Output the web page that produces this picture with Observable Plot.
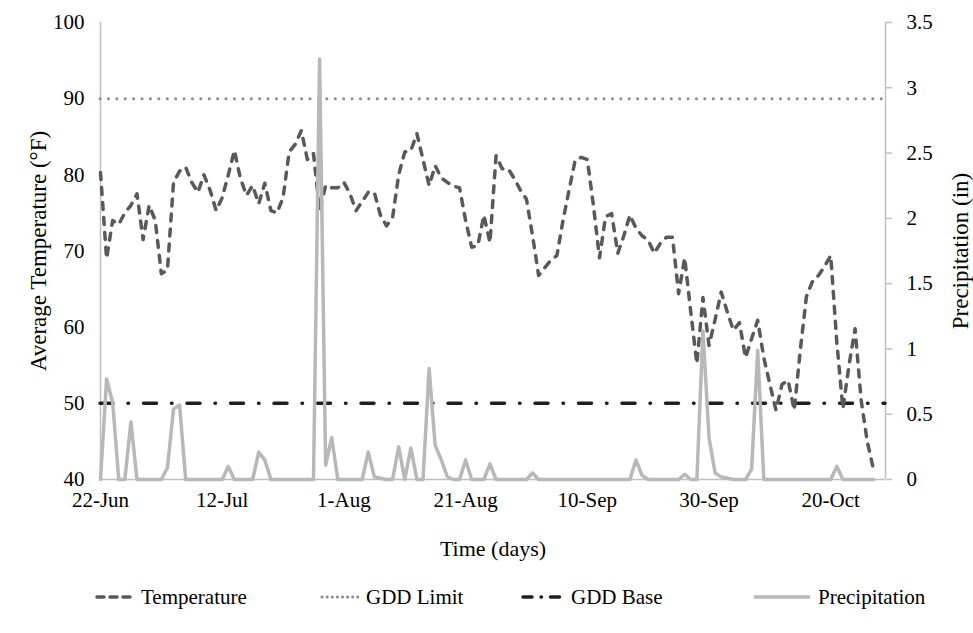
<!DOCTYPE html>
<html><head><meta charset="utf-8">
<script src="https://cdn.jsdelivr.net/npm/d3@7"></script>
<script src="https://cdn.jsdelivr.net/npm/@observablehq/plot@0.6"></script>
<style>
body{margin:0;background:#fff;font-family:"Liberation Serif","Times New Roman",serif;}
#chart{position:relative;width:973px;height:633px;overflow:hidden;}
#chart svg text{font-family:"Liberation Serif","Times New Roman",serif;}
.legend{position:absolute;top:584px;left:0;width:973px;height:26px;font-size:21px;color:#000;}
.item{position:absolute;top:0;display:flex;align-items:center;height:26px;white-space:nowrap;}
.item svg{margin-right:6px;}
</style></head><body>
<div id="chart"></div>
<script>
const startDate = "2013-06-22";
const endDate = "2013-10-29";
const temperature = [
  80.3,69,74,73.5,75,76,77.5,71.5,76,74,
  67,67.5,79,80.5,81,79,77.7,80,78,75.3,
  77,80,83.2,79.5,77.3,78.6,76.2,78.9,75.3,75,
  77,83,84,85.8,82,82.8,75.3,78.6,78.3,78.3,
  79,77.5,75.3,76.5,77.7,77.7,74.7,73.3,74.4,80,
  83,83.2,85.4,82,78.6,81.2,79.6,79,78.5,78.3,
  74,70.5,70.7,74.7,71.1,82.5,80.8,80.8,79.5,78,
  76.8,72,66.8,67.8,68.8,69.4,74,78,81.9,82.3,
  82,76,69.1,74.5,74.9,69.7,72,74.7,73,72,
  71.4,69.7,71,71.8,71.8,64.4,69.1,62,55.2,63.9,
  57.6,61,64.6,62,59.6,60.6,56,58.5,60.9,56,
  52.5,49.1,52.5,53,49.1,57,64,66,66.8,68,
  69.4,58,49.3,55,59.8,50.4,45,41.4
];
const precipitation = [
  0,0.77,0.59,0,0,0.44,0,0,0,0,
  0,0.09,0.54,0.57,0,0,0,0,0,0,
  0,0.1,0,0,0,0,0.21,0.15,0,0,
  0,0,0,0,0,0,3.22,0.11,0.32,0,
  0,0,0,0,0.21,0.02,0.01,0,0,0.25,
  0,0.24,0,0,0.85,0.26,0.15,0.02,0,0,
  0.15,0,0,0,0.12,0,0,0,0,0,
  0,0.05,0,0,0,0,0,0,0,0,
  0,0,0,0,0,0,0,0,0.15,0.03,
  0,0,0,0,0,0,0.04,0,0,1.14,
  0.32,0.05,0.02,0.01,0,0,0,0.08,0.99,0,
  0,0,0,0,0,0,0,0,0,0,
  0,0.1,0,0,0,0,0,0
];
const gddLimit = 90;
const gddBase = 50;
const xTickLabels = ["22-Jun","12-Jul","1-Aug","21-Aug","10-Sep","30-Sep","20-Oct"];
const tempTicks = [40,50,60,70,80,90,100];
const precipTicks = [0,0.5,1,1.5,2,2.5,3,3.5];
const seriesNames = ["Temperature","GDD Limit","GDD Base","Precipitation"];

const tMin = 40, tMax = 100, pMax = 3.5;
const p2t = p => tMin + p * (tMax - tMin) / pMax;
const t2p = t => (t - tMin) * pMax / (tMax - tMin);

const day0 = new Date(startDate + "T00:00:00Z");
const dayN = new Date(endDate + "T00:00:00Z");
const dates = temperature.map((_, i) => new Date(day0.getTime() + i * 864e5));
const parseTick = d3.utcParse("%d-%b-%Y");
const xTicks = xTickLabels.map(s => parseTick(s + "-2013"));
const tData = temperature.map((v, i) => ({date: dates[i], v}));
const pData = precipitation.map((v, i) => ({date: dates[i], v: p2t(v)}));

const W = 973, H = 570;
const axisColor = "#bfbfbf";
const FAM = '"Liberation Serif","Times New Roman",serif';

const chart = Plot.plot({
  width: W, height: H,
  marginLeft: 100, marginRight: 88, marginTop: 22, marginBottom: H - 479,
  style: {fontFamily: FAM, fontSize: "21px", color: "#000", background: "#fff"},
  x: {type: "utc", domain: [day0, dayN]},
  y: {domain: [tMin, tMax]},
  marks: [
    Plot.ruleX([day0], {stroke: axisColor, strokeWidth: 1.5}),
    Plot.ruleX([dayN], {stroke: axisColor, strokeWidth: 1.5}),
    Plot.ruleY([tMin], {stroke: axisColor, strokeWidth: 1.5}),
    Plot.ruleY([gddLimit], {stroke: "#8c8c8c", strokeWidth: 3, strokeDasharray: "0.1 8.3", strokeLinecap: "round"}),
    Plot.ruleY([gddBase], {stroke: "#1e1e1e", strokeWidth: 3.5, strokeDasharray: "13 15 0.5 15", strokeLinecap: "round"}),
    Plot.line(tData, {x: "date", y: "v", stroke: "#595959", strokeWidth: 3.5, strokeDasharray: "7 8", strokeLinecap: "round", strokeLinejoin: "round"}),
    Plot.line(pData, {x: "date", y: "v", stroke: "#b8b8b8", strokeWidth: 3.5, strokeLinejoin: "round"}),
    Plot.axisY(tempTicks, {anchor: "left", tickSize: 0, tickPadding: 16, label: null}),
    Plot.axisY(precipTicks.map(p2t), {anchor: "right", tickSize: 6, tickPadding: 15, stroke: axisColor, strokeWidth: 1.5,
      tickFormat: v => String(Math.round(t2p(v) * 10) / 10), label: null}),
    Plot.axisX(xTicks, {anchor: "bottom", tickSize: 0, tickPadding: 13, tickFormat: d3.utcFormat("%-d-%b"), label: null}),
    Plot.text(["Time (days)"], {frameAnchor: "bottom", dy: 69, lineAnchor: "middle", textAnchor: "middle", fontSize: 22}),
    Plot.text(["Average Temperature (°F)"], {frameAnchor: "left", dx: -62, rotate: -90, lineAnchor: "middle", textAnchor: "middle", fontSize: 23}),
    Plot.text(["Precipitation (in)"], {frameAnchor: "right", dx: 75, rotate: -90, lineAnchor: "middle", textAnchor: "middle", fontSize: 23})
  ]
});
document.getElementById("chart").appendChild(chart);

// legend
const legendStyles = [
  {stroke: "#595959", width: 3.5, dash: "7 6", cap: "round", left: 95, sw: 40},
  {stroke: "#8c8c8c", width: 3, dash: "0.1 5", cap: "round", left: 320, sw: 40},
  {stroke: "#1e1e1e", width: 3.5, dash: "9 9 0.5 9", cap: "round", left: 521, sw: 44},
  {stroke: "#b8b8b8", width: 3.5, dash: null, cap: "butt", left: 752, sw: 60}
];
const legend = document.createElement("div");
legend.className = "legend";
seriesNames.forEach((name, i) => {
  const s = legendStyles[i];
  const item = document.createElement("div");
  item.className = "item";
  item.style.left = s.left + "px";
  item.innerHTML = `<svg width="${s.sw}" height="10"><line x1="2" y1="5" x2="${s.sw - 2}" y2="5" stroke="${s.stroke}" stroke-width="${s.width}" ${s.dash ? `stroke-dasharray="${s.dash}"` : ""} stroke-linecap="${s.cap}"/></svg><span>${name}</span>`;
  legend.appendChild(item);
});
document.getElementById("chart").appendChild(legend);
</script>
</body></html>
